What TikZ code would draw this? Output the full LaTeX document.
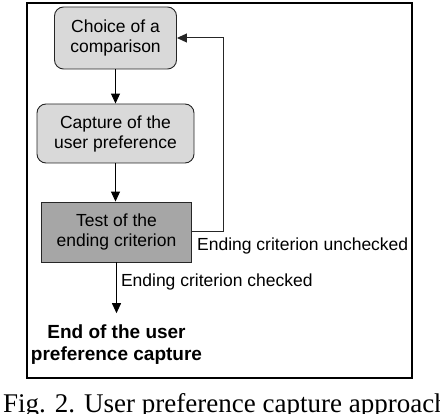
\documentclass[tikz,border=0pt]{standalone}
\usepackage{fontspec}
\setmainfont{Liberation Sans}
\newfontfamily\capfont{Liberation Serif}
\usetikzlibrary{arrows.meta}
\begin{document}
\begin{tikzpicture}[x=1pt,y=-1pt,
  box/.style={draw=black!85, line width=0.9pt, align=center, font=\fontsize{17.5}{20}\selectfont, inner sep=0pt},
  light/.style={box, fill=black!15, rounded corners=9pt},
  dark/.style={box, fill=black!35},
  arr/.style={-{Triangle[length=10pt,width=9pt]}, line width=1pt},
  lbl/.style={font=\fontsize{17.5}{20}\selectfont, inner sep=0pt}]
\useasboundingbox (0,0) rectangle (440,414);
\fill[white] (0,0) rectangle (440,414);
\draw[line width=2pt] (27,3) rectangle (411.5,378);
\node[light, minimum width=122pt, minimum height=62pt] (b1) at (115.5,38) {Choice of a\\comparison};
\node[light, minimum width=157pt, minimum height=59pt] (b2) at (115.5,133.5) {Capture of the\\user preference};
\node[dark, minimum width=150pt, minimum height=60pt] (b3) at (116.5,232) {Test of the\\ending criterion};
\node[font=\bfseries\fontsize{19}{22.5}\selectfont, align=center, inner xsep=0pt, inner ysep=11pt] (end) at (116.5,344.5) {End of the user\\preference capture};
\coordinate (turn) at (223,232);
\draw[arr] (b1.south) -- (b1.south |- b2.north);
\draw[arr] (b2.south) -- (b2.south |- b3.north);
\draw[arr] (b3.south) -- node[lbl, anchor=west, xshift=4pt, pos=0.38] (lc) {Ending criterion checked} (end.north);
\draw[arr, draw=black!85] (b3.east) -- (turn) |- (b1.east);
\node[lbl, anchor=north west, xshift=5pt, yshift=-5.5pt] (lu) at (b3.east) {Ending criterion unchecked};
\node[font=\capfont\fontsize{27}{30}\selectfont, anchor=base west, inner sep=0pt] (cap) at (3,413) {Fig. 2. User preference capture approach};
\end{tikzpicture}
\end{document}
